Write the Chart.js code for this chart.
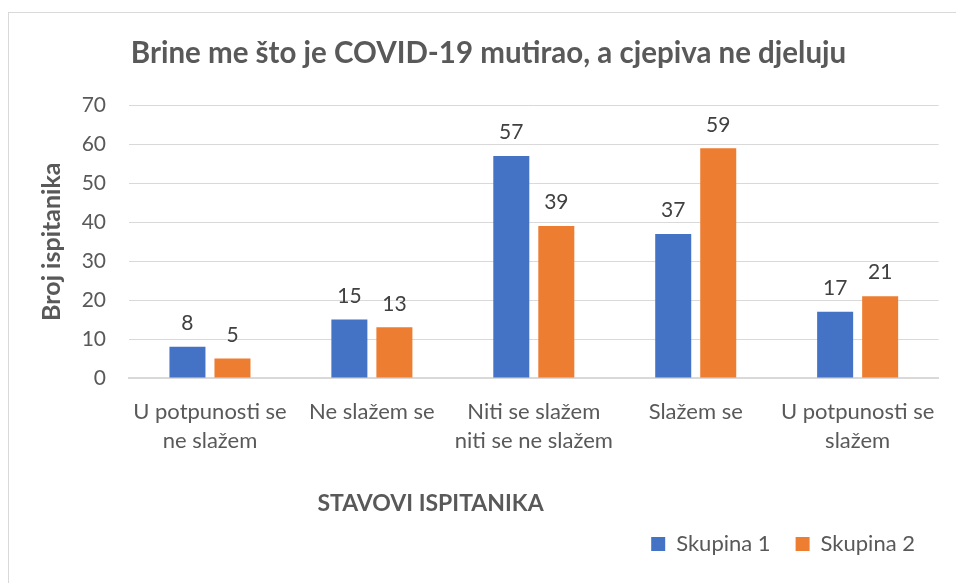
<!DOCTYPE html>
<html>
<head>
<meta charset="utf-8">
<script src="https://cdn.jsdelivr.net/npm/chart.js@4.4.1/dist/chart.umd.min.js"></script>
<style>
  html, body { margin: 0; padding: 0; background: #fff; }
  #wrap { position: relative; width: 956px; height: 583px; overflow: hidden; }
  #frame { position: absolute; left: 8px; top: 12px; width: 1000px; height: 700px; border: 1px solid #d9d9d9; box-sizing: border-box; }
  canvas { position: absolute; left: 0; top: 0; }
</style>
</head>
<body>
<div id="wrap">
  <div id="frame"></div>
  <canvas id="chart" width="956" height="583"></canvas>
</div>
<script>
const categories = [
    ['U potpunosti se', 'ne slažem'],
    'Ne slažem se',
    ['Niti se slažem', 'niti se ne slažem'],
    'Slažem se',
    ['U potpunosti se', 'slažem']
];
const skupina1 = [8, 15, 57, 37, 17];
const skupina2 = [5, 13, 39, 59, 21];
const yTicks = [0, 10, 20, 30, 40, 50, 60, 70];

const FONT = 'Lato, "Open Sans", sans-serif';
const TEXT = '#595959';

// value labels above each bar
const barLabels = {
    id: 'barLabels',
    afterDatasetsDraw(chart) {
        const ctx = chart.ctx;
        ctx.save();
        ctx.font = '21px ' + FONT;
        ctx.fillStyle = '#404040';
        ctx.textAlign = 'center';
        ctx.textBaseline = 'bottom';
        chart.data.datasets.forEach((ds, i) => {
            chart.getDatasetMeta(i).data.forEach((bar, j) => {
                ctx.fillText(ds.data[j], bar.x, bar.y - 13);
            });
        });
        ctx.restore();
    }
};

// x axis title sits left of centre in the original
const xTitle = {
    id: 'xTitle',
    afterDraw(chart) {
        const a = chart.chartArea;
        const ctx = chart.ctx;
        ctx.save();
        ctx.font = 'bold 23px ' + FONT;
        ctx.fillStyle = TEXT;
        ctx.textAlign = 'center';
        ctx.textBaseline = 'middle';
        ctx.fillText('STAVOVI ISPITANIKA', a.left + (a.right - a.left) * 0.3724, 504);
        ctx.restore();
    }
};

new Chart(document.getElementById('chart'), {
    type: 'bar',
    data: {
        labels: categories,
        datasets: [
            { label: 'Skupina 1', data: skupina1, backgroundColor: '#4472C4' },
            { label: 'Skupina 2', data: skupina2, backgroundColor: '#ED7D31' }
        ]
    },
    options: {
        responsive: false,
        devicePixelRatio: 1,
        animation: false,
        layout: { padding: { left: 37, right: 16, top: 20, bottom: 18 } },
        datasets: { bar: { categoryPercentage: 0.556, barPercentage: 0.8 } },
        plugins: {
            title: {
                display: true,
                text: 'Brine me što je COVID-19 mutirao, a cjepiva ne djeluju',
                color: TEXT,
                font: { family: FONT, size: 29.5, weight: 'bold' },
                padding: { top: 16, bottom: 34 }
            },
            legend: {
                position: 'bottom',
                align: 'end',
                labels: {
                    color: TEXT,
                    font: { family: FONT, size: 22 },
                    boxWidth: 14,
                    boxHeight: 14,
                    padding: 25
                }
            },
            tooltip: { enabled: false }
        },
        scales: {
            x: {
                grid: { display: false, drawTicks: false },
                border: { color: '#d9d9d9', width: 2 },
                ticks: { color: TEXT, font: { family: FONT, size: 22, lineHeight: 1.3 }, padding: 20, maxRotation: 0, autoSkip: false },
                afterFit(scale) { scale.height = 130; }
            },
            y: {
                min: 0,
                max: 70,
                afterBuildTicks(scale) { scale.ticks = yTicks.map(v => ({ value: v })); },
                afterFit(scale) { scale.width = 92; },
                grid: { color: '#d9d9d9', drawTicks: false },
                border: { display: false },
                ticks: { color: TEXT, font: { family: FONT, size: 21 }, padding: 23 },
                title: {
                    display: true,
                    text: 'Broj ispitanika',
                    color: TEXT,
                    font: { family: FONT, size: 25, weight: 'bold' },
                    padding: 0
                }
            }
        }
    },
    plugins: [barLabels, xTitle]
});
</script>
</body>
</html>
